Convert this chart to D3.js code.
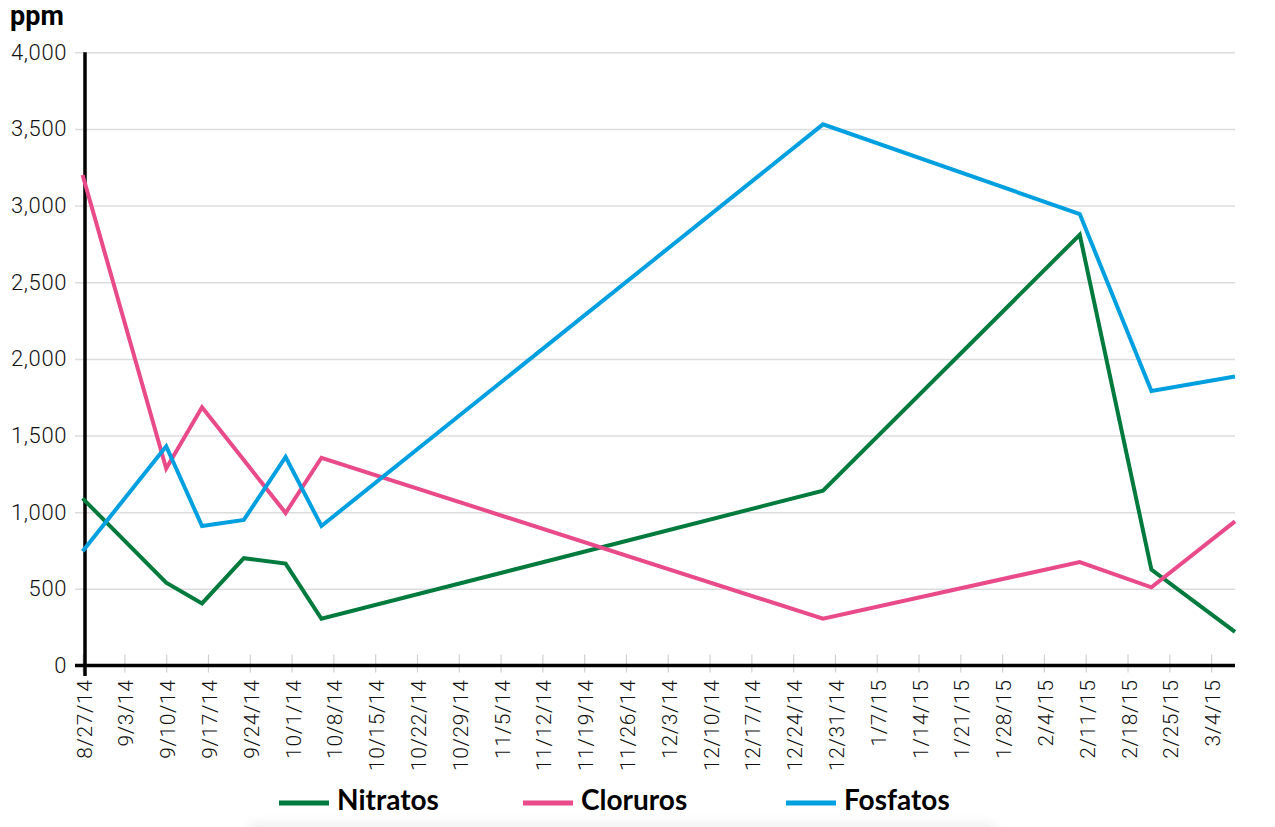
<!DOCTYPE html>
<html>
<head>
<meta charset="utf-8">
<script src="https://cdn.jsdelivr.net/npm/d3@7"></script>
<style>
  body { margin: 0; background: #fff; }
  svg { display: block; }
  .tick text { font-family: Roboto, "Liberation Sans", sans-serif; font-weight: 300; fill: #111; letter-spacing: 0.6px; }
</style>
</head>
<body>
<div id="chart"></div>
<script>
const dates = ['2014-08-27', '2014-09-10', '2014-09-16', '2014-09-23', '2014-09-30',
  '2014-10-06', '2014-12-29', '2015-02-10', '2015-02-22', '2015-03-08'];
const nitratos = [1090, 540, 405, 700, 665, 305, 1140, 2810, 625, 220];
const cloruros = [3200, 1285, 1685, 1340, 995, 1355, 305, 675, 510, 940];
const fosfatos = [745, 1430, 910, 950, 1360, 910, 3530, 2945, 1790, 1885];
const seriesNames = ['Nitratos', 'Cloruros', 'Fosfatos'];
const yTicks = [0, 500, 1000, 1500, 2000, 2500, 3000, 3500, 4000];

const colors = ['#007a3d', '#e84a8a', '#00a0e0'];

const width = 1275;
const height = 827;

const parseDate = d3.timeParse('%Y-%m-%d');
const days = dates.map(parseDate);
const series = [nitratos, cloruros, fosfatos].map((vals, i) => ({
  name: seriesNames[i],
  color: colors[i],
  values: vals.map((v, j) => ({ date: days[j], value: v })),
}));

const svg = d3.select('#chart').append('svg')
  .attr('width', width)
  .attr('height', height);

// faint shadow under the legend
svg.append('defs').append('filter')
  .attr('id', 'soft').attr('x', '-10%').attr('y', '-100%').attr('width', '120%').attr('height', '300%')
  .append('feGaussianBlur').attr('stdDeviation', 6);
svg.append('rect')
  .attr('x', 250).attr('y', 824).attr('width', 745).attr('height', 20)
  .attr('fill', '#ececec')
  .attr('filter', 'url(#soft)');

const xScale = d3.scaleTime()
  .domain([days[0], days[days.length - 1]])
  .range([82.6, 1235]);

const yScale = d3.scaleLinear().domain([0, 4000]).range([665.5, 52.3]);

// gridlines
svg.append('g')
  .attr('class', 'gridlines')
  .attr('transform', 'translate(1235, 0)')
  .call(d3.axisLeft(yScale).tickValues(yTicks.slice(1)).tickFormat('').tickSize(1160))
  .call(g => g.select('.domain').remove())
  .call(g => g.selectAll('line').attr('stroke', '#dcdcdc').attr('stroke-width', 1.5));

// y labels
svg.append('g')
  .attr('transform', 'translate(75, 0)')
  .call(d3.axisLeft(yScale).tickValues(yTicks).tickFormat(d3.format(',')).tickSize(0).tickPadding(8))
  .call(g => g.select('.domain').remove())
  .call(g => g.selectAll('text').attr('font-size', 22));

// x ticks
const weekTicks = d3.timeWednesday.range(days[0], d3.timeDay.offset(days[days.length - 1], 1));
const xAxis = svg.append('g')
  .attr('transform', 'translate(0, 665.5)')
  .call(d3.axisBottom(xScale).tickValues(weekTicks).tickFormat(d3.timeFormat('%-m/%-d/%y')).tickSize(0));
xAxis.select('.domain').remove();
xAxis.selectAll('.tick line').attr('y1', -11).attr('y2', 7).attr('stroke', '#d0d0d0').attr('stroke-width', 1.2);
xAxis.selectAll('.tick text')
  .attr('font-size', 21)
  .attr('transform', 'rotate(-90)')
  .attr('text-anchor', 'end')
  .attr('x', -14)
  .attr('y', 1)
  .attr('dy', '0.36em');

// axis lines
svg.append('line')
  .attr('x1', 75).attr('x2', 1235)
  .attr('y1', yScale(0)).attr('y2', yScale(0))
  .attr('stroke', '#000').attr('stroke-width', 3.5);
svg.append('line')
  .attr('x1', 85).attr('x2', 85)
  .attr('y1', yScale(4000)).attr('y2', 676)
  .attr('stroke', '#000').attr('stroke-width', 3.5);

// lines
const line = d3.line().x(d => xScale(d.date)).y(d => yScale(d.value));
svg.append('g').selectAll('path')
  .data(series)
  .join('path')
  .attr('d', d => line(d.values))
  .attr('fill', 'none')
  .attr('stroke', d => d.color)
  .attr('stroke-width', 4)
  .attr('stroke-linejoin', 'miter');

// unit label
svg.append('text')
  .attr('x', 10).attr('y', 25)
  .attr('font-family', 'Roboto, "Liberation Sans", sans-serif')
  .attr('font-weight', 700)
  .attr('font-size', 27)
  .text('ppm');

// legend
const legendX = [279, 523, 786];
const legend = svg.append('g').selectAll('g')
  .data(series)
  .join('g')
  .attr('transform', (d, i) => `translate(${legendX[i]}, 803)`);
legend.append('line')
  .attr('x1', 0).attr('x2', 50)
  .attr('stroke', d => d.color).attr('stroke-width', 5);
legend.append('text')
  .attr('x', 58).attr('y', 7)
  .attr('font-family', 'Lato, "Noto Sans", sans-serif')
  .attr('font-weight', 700)
  .attr('font-size', 28)
  .text(d => d.name);
</script>
</body>
</html>
